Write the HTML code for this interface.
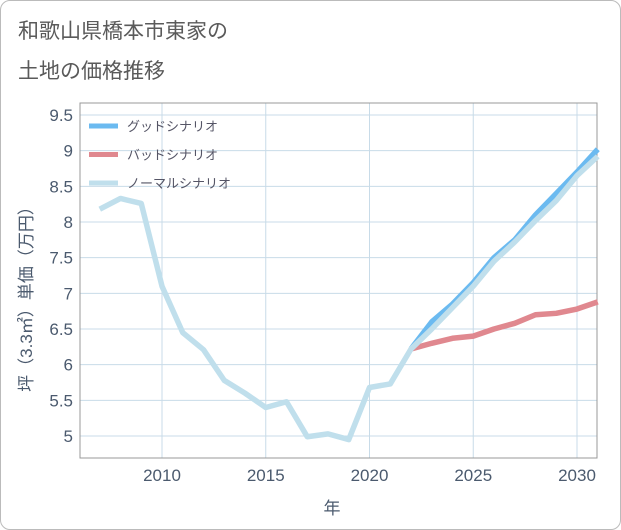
<!DOCTYPE html>
<html><head><meta charset="utf-8"><style>
body{margin:0;background:#fff;}
.card{position:absolute;left:0;top:0;width:619px;height:528px;border:1px solid #bbb;border-radius:10px;background:#fff;}
.t{position:absolute;left:18px;font:21px "Liberation Sans","Noto Sans CJK JP",sans-serif;color:#5a5a5a;}
text{font-family:"Liberation Sans","Noto Sans CJK JP",sans-serif;}
</style></head><body>
<div class="card"></div>
<div class="t" style="top:15px">和歌山県橋本市東家の</div>
<div class="t" style="top:55px">土地の価格推移</div>
<svg id="c" width="621" height="530" style="position:absolute;left:0;top:0"></svg>
<script>
const years=[2007,2008,2009,2010,2011,2012,2013,2014,2015,2016,2017,2018,2019,2020,2021,2022,2023,2024,2025,2026,2027,2028,2029,2030,2031];
const normal=[8.18,8.33,8.26,7.1,6.45,6.21,5.78,5.6,5.4,5.48,4.99,5.03,4.95,5.68,5.73,6.22,6.5,6.8,7.1,7.45,7.72,8.02,8.3,8.65,8.92];
const goodYears=[2022,2023,2024,2025,2026,2027,2028,2029,2030,2031];
const good=[6.22,6.6,6.85,7.15,7.5,7.75,8.1,8.4,8.7,9.02];
const bad=[6.22,6.3,6.37,6.4,6.5,6.58,6.7,6.72,6.78,6.88];
const yTicks=[5,5.5,6,6.5,7,7.5,8,8.5,9,9.5];
const yLabels=["5","5.5","6","6.5","7","7.5","8","8.5","9","9.5"];
const xTicks=[2010,2015,2020,2025,2030];
const X=y=>162+(y-2010)*20.75, Y=v=>436-(v-5)*71.33;
const L=80,R=597,T=103,B=458;
const s=document.getElementById('c');const NS='http://www.w3.org/2000/svg';
function mk(t,a,p){const e=document.createElementNS(NS,t);for(const k in a)e.setAttribute(k,a[k]);(p||s).appendChild(e);return e;}
let e;
for(let i=0;i<yTicks.length;i++){const y=Y(yTicks[i]);
e=mk('line',{x1:L,x2:R,y1:y,y2:y,stroke:'#c8dbe8','stroke-width':1});


e=mk('text',{x:73,y:y+6,'text-anchor':'end','font-size':17,fill:'#4b5a6e'});e.textContent=yLabels[i];

}
for(const t of xTicks){const x=X(t);
e=mk('line',{x1:x,x2:x,y1:T,y2:B,stroke:'#c8dbe8','stroke-width':1});


e=mk('text',{x:x,y:481,'text-anchor':'middle','font-size':17,fill:'#4b5a6e'});e.textContent=t;

}
e=mk('rect',{x:L,y:T,width:R-L,height:B-T,fill:'none',stroke:'#999','stroke-width':1});


function line(xs,vs,c,n){e=mk('polyline',{points:xs.map((y,i)=>X(y)+','+Y(vs[i])).join(' '),fill:'none',stroke:c,'stroke-width':5.5,'stroke-linejoin':'round'});

}
line(goodYears,good,'#6bbaf0','good-scenario-line');
line(goodYears,bad,'#e0888f','bad-scenario-line');
line(years,normal,'#c0dfec','normal-scenario-line');
const leg=[['グッドシナリオ','#6bbaf0'],['バッドシナリオ','#e0888f'],['ノーマルシナリオ','#c0dfec']];
leg.forEach((l,i)=>{const y=126+i*28.5;
e=mk('line',{x1:89,x2:118,y1:y,y2:y,stroke:l[1],'stroke-width':5});


e=mk('text',{x:127,y:y+5,'font-size':13,fill:'#556'});e.textContent=l[0];

});
e=mk('text',{x:332,y:514,'text-anchor':'middle','font-size':17,fill:'#4b5a6e'});e.textContent='年';


e=mk('text',{x:0,y:0,'text-anchor':'middle','font-size':17,fill:'#4b5a6e',transform:'translate(32,295) rotate(-90)'});e.textContent='坪（3.3㎡）単価（万円）';


</script>
</body></html>
